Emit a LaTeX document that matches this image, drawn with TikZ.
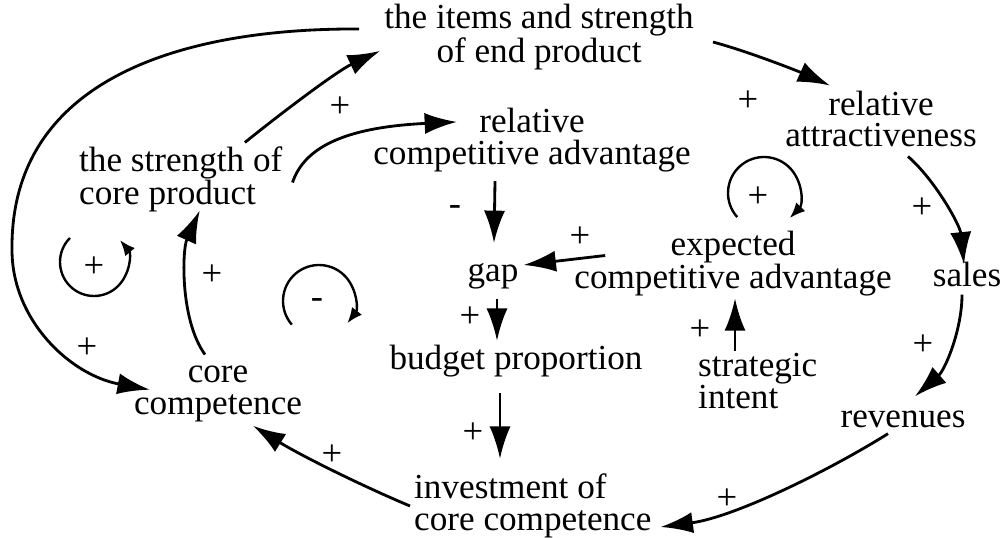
\documentclass[tikz,border=0pt]{standalone}
\usepackage{fontspec}
\setmainfont{Liberation Serif}
\usetikzlibrary{arrows.meta}

\begin{document}
\begin{tikzpicture}[x=0.025cm,y=-0.025cm,line width=2pt,
  >={Latex[length=23pt,width=15pt]},
  var/.style={inner sep=2pt,font=\fontsize{25}{22.6}\selectfont},
  sign/.style={inner sep=0pt,font=\fontsize{26}{26}\selectfont},
  loopmark/.style={line width=1.7pt,-{Latex[length=11pt,width=9pt]}}]
  \useasboundingbox (0,0) rectangle (1004,538);

  % variables
  \node[var,align=center] (items) at (539,37) {the items and strength\\of end product};
  \node[var,align=center] (attract) at (881,119) {relative\\attractiveness};
  \node[var,align=center] (relcomp) at (532,140) {relative\\competitive advantage};
  \node[var,align=left,anchor=west] (strength) at (75,179.5) {the strength of\\core product};
  \node[var] (gap) at (493,276) {gap};
  \node[var,align=center] (expected) at (733,263.5) {expected\\competitive advantage};
  \node[var] (sales) at (967,274) {sales};
  \node[var] (budget) at (516,361) {budget proportion};
  \node[var,align=left,anchor=west] (strategic) at (694,381) {strategic\\intent};
  \node[var] (revenues) at (903,419) {revenues};
  \node[var,align=center] (corecomp) at (218,393.7) {core\\competence};
  \node[var,align=left,anchor=west] (invest) at (410,506) {investment of\\core competence};

  % outer links
  \draw[->] ([shift={(-21,-8)}]items.west) .. controls (180,28) and (10,80) .. (12,250)
    .. controls (12,320) and (70,375) .. ([shift={(20,-4)}]corecomp.west);
  \draw[->] (strength.30) .. controls (270,122) and (335,72) .. (items.185);
  \draw[->] ([shift={(15,5)}]items.east) .. controls (750,52) and (800,72) .. ([shift={(-51,-1)}]attract.north);
  \draw[->] ([shift={(27,5)}]attract.south) .. controls (935,180) and (960,225) .. ([shift={(-3,7)}]sales.north);
  \draw[->] ([shift={(-5,4)}]sales.south) .. controls (962,330) and (945,370) .. ([shift={(12,-10)}]revenues.north);
  \draw[->] ([shift={(-15,2)}]revenues.south) .. controls (830,470) and (735,517) .. ([shift={(5,21)}]invest.east);
  \draw[->] (invest.west) .. controls (360,485) and (300,455) .. ([shift={(35,0)}]corecomp.south);
  \draw[->] ([shift={(-13,-7)}]corecomp.north) .. controls (180,320) and (182,250) .. ([shift={(19,-6)}]strength.south);

  % inner links
  \draw[->] ([shift={(6,3)}]strength.east) .. controls (305,145) and (350,127) .. ([shift={(-75,18)}]relcomp.north);
  \draw[->] ([shift={(-37,5)}]relcomp.south) -- ([shift={(1,-16)}]gap.north);
  \draw[->] ([shift={(35,-8)}]expected.west) -- ([shift={(1,-11)}]gap.east);
  \draw[->] ([shift={(4,6)}]gap.south) -- ([shift={(-19,0)}]budget.north);
  \draw[->] ([shift={(-16,12)}]budget.south) -- ([shift={(90,-11)}]invest.north west);
  \draw[->] ([shift={(41,2)}]strategic.north west) -- ([shift={(2,-2)}]expected.south);

  % loop marks
  \draw[loopmark] (94,262) ++(-135:34) arc[start angle=-135,end angle=-400,radius=34];
  \draw[loopmark] (319,301) ++(-221:36) arc[start angle=-221,end angle=38,radius=36];
  \draw[loopmark] (764,193) ++(-222:36) arc[start angle=-222,end angle=44,radius=36];

  % polarities
  \foreach \x/\y/\sg [count=\i] in {340/107/+,748/101/+,922/208/+,923/345/+,727/499/+,
      332/455/+,212/275/+,87/348/+,455/211/-,580/237/+,470/317/+,473/433/+,700/330/+,
      94/267/+,317/304/-,758/197/+}
    \node[sign] (s\i) at (\x,\y) {\sg};
\end{tikzpicture}
\end{document}
